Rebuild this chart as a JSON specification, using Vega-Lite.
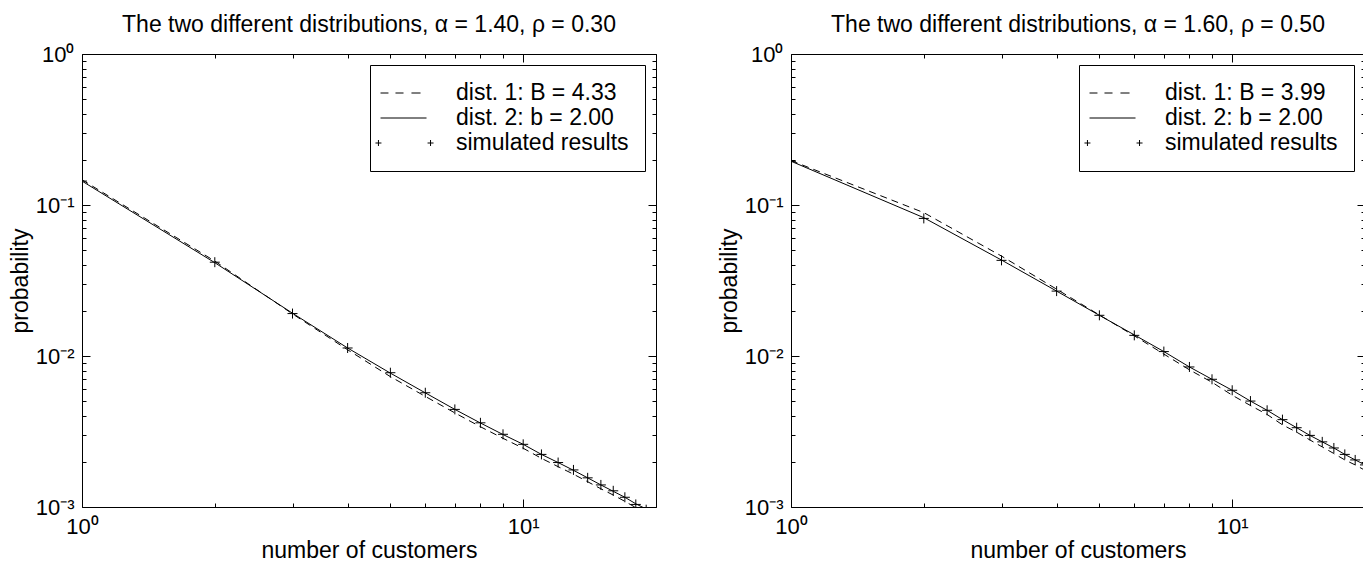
{
  "$schema": "https://vega.github.io/schema/vega-lite/v6.json",
  "background": "white",
  "padding": {"left": 8, "top": 13, "right": 0, "bottom": 0},
  "spacing": 60,
  "datasets": {
    "left": [
      {"x": 1, "p": 0.147, "series": "dist. 1: B = 4.33"},
      {"x": 2, "p": 0.0425, "series": "dist. 1: B = 4.33"},
      {"x": 3, "p": 0.019, "series": "dist. 1: B = 4.33"},
      {"x": 4, "p": 0.011, "series": "dist. 1: B = 4.33"},
      {"x": 5, "p": 0.0073, "series": "dist. 1: B = 4.33"},
      {"x": 6, "p": 0.0054, "series": "dist. 1: B = 4.33"},
      {"x": 7, "p": 0.0042, "series": "dist. 1: B = 4.33"},
      {"x": 8, "p": 0.0034, "series": "dist. 1: B = 4.33"},
      {"x": 9, "p": 0.00285, "series": "dist. 1: B = 4.33"},
      {"x": 10, "p": 0.00245, "series": "dist. 1: B = 4.33"},
      {"x": 11, "p": 0.0021, "series": "dist. 1: B = 4.33"},
      {"x": 12, "p": 0.00185, "series": "dist. 1: B = 4.33"},
      {"x": 13, "p": 0.00165, "series": "dist. 1: B = 4.33"},
      {"x": 14, "p": 0.00147, "series": "dist. 1: B = 4.33"},
      {"x": 15, "p": 0.00132, "series": "dist. 1: B = 4.33"},
      {"x": 16, "p": 0.0012, "series": "dist. 1: B = 4.33"},
      {"x": 17, "p": 0.00109, "series": "dist. 1: B = 4.33"},
      {"x": 18, "p": 0.00099, "series": "dist. 1: B = 4.33"},
      {"x": 19, "p": 0.0009, "series": "dist. 1: B = 4.33"},
      {"x": 20, "p": 0.00083, "series": "dist. 1: B = 4.33"},
      {"x": 1, "p": 0.144, "series": "dist. 2: b = 2.00"},
      {"x": 2, "p": 0.0415, "series": "dist. 2: b = 2.00"},
      {"x": 3, "p": 0.0192, "series": "dist. 2: b = 2.00"},
      {"x": 4, "p": 0.0113, "series": "dist. 2: b = 2.00"},
      {"x": 5, "p": 0.0077, "series": "dist. 2: b = 2.00"},
      {"x": 6, "p": 0.0057, "series": "dist. 2: b = 2.00"},
      {"x": 7, "p": 0.00443, "series": "dist. 2: b = 2.00"},
      {"x": 8, "p": 0.0036, "series": "dist. 2: b = 2.00"},
      {"x": 9, "p": 0.00302, "series": "dist. 2: b = 2.00"},
      {"x": 10, "p": 0.0026, "series": "dist. 2: b = 2.00"},
      {"x": 11, "p": 0.00223, "series": "dist. 2: b = 2.00"},
      {"x": 12, "p": 0.00197, "series": "dist. 2: b = 2.00"},
      {"x": 13, "p": 0.00175, "series": "dist. 2: b = 2.00"},
      {"x": 14, "p": 0.00156, "series": "dist. 2: b = 2.00"},
      {"x": 15, "p": 0.0014, "series": "dist. 2: b = 2.00"},
      {"x": 16, "p": 0.00127, "series": "dist. 2: b = 2.00"},
      {"x": 17, "p": 0.00116, "series": "dist. 2: b = 2.00"},
      {"x": 18, "p": 0.00105, "series": "dist. 2: b = 2.00"},
      {"x": 19, "p": 0.00097, "series": "dist. 2: b = 2.00"},
      {"x": 20, "p": 0.00089, "series": "dist. 2: b = 2.00"},
      {"x": 1, "p": 0.144, "series": "simulated results"},
      {"x": 2, "p": 0.0418, "series": "simulated results"},
      {"x": 3, "p": 0.0191, "series": "simulated results"},
      {"x": 4, "p": 0.0113, "series": "simulated results"},
      {"x": 5, "p": 0.00775, "series": "simulated results"},
      {"x": 6, "p": 0.00571, "series": "simulated results"},
      {"x": 7, "p": 0.00443, "series": "simulated results"},
      {"x": 8, "p": 0.00361, "series": "simulated results"},
      {"x": 9, "p": 0.00303, "series": "simulated results"},
      {"x": 10, "p": 0.0026, "series": "simulated results"},
      {"x": 11, "p": 0.00223, "series": "simulated results"},
      {"x": 12, "p": 0.00197, "series": "simulated results"},
      {"x": 13, "p": 0.00176, "series": "simulated results"},
      {"x": 14, "p": 0.00156, "series": "simulated results"},
      {"x": 15, "p": 0.0014, "series": "simulated results"},
      {"x": 16, "p": 0.00128, "series": "simulated results"},
      {"x": 17, "p": 0.00116, "series": "simulated results"},
      {"x": 18, "p": 0.00104, "series": "simulated results"},
      {"x": 19, "p": 0.00096, "series": "simulated results"}
    ],
    "right": [
      {"x": 1, "p": 0.197, "series": "dist. 1: B = 3.99"},
      {"x": 2, "p": 0.089, "series": "dist. 1: B = 3.99"},
      {"x": 3, "p": 0.0459, "series": "dist. 1: B = 3.99"},
      {"x": 4, "p": 0.0277, "series": "dist. 1: B = 3.99"},
      {"x": 5, "p": 0.0187, "series": "dist. 1: B = 3.99"},
      {"x": 6, "p": 0.0136, "series": "dist. 1: B = 3.99"},
      {"x": 7, "p": 0.0103, "series": "dist. 1: B = 3.99"},
      {"x": 8, "p": 0.0081, "series": "dist. 1: B = 3.99"},
      {"x": 9, "p": 0.0067, "series": "dist. 1: B = 3.99"},
      {"x": 10, "p": 0.0055, "series": "dist. 1: B = 3.99"},
      {"x": 11, "p": 0.0047, "series": "dist. 1: B = 3.99"},
      {"x": 12, "p": 0.0041, "series": "dist. 1: B = 3.99"},
      {"x": 13, "p": 0.0035, "series": "dist. 1: B = 3.99"},
      {"x": 14, "p": 0.00313, "series": "dist. 1: B = 3.99"},
      {"x": 15, "p": 0.00278, "series": "dist. 1: B = 3.99"},
      {"x": 16, "p": 0.0025, "series": "dist. 1: B = 3.99"},
      {"x": 17, "p": 0.00226, "series": "dist. 1: B = 3.99"},
      {"x": 18, "p": 0.00205, "series": "dist. 1: B = 3.99"},
      {"x": 19, "p": 0.0019, "series": "dist. 1: B = 3.99"},
      {"x": 20, "p": 0.00175, "series": "dist. 1: B = 3.99"},
      {"x": 1, "p": 0.195, "series": "dist. 2: b = 2.00"},
      {"x": 2, "p": 0.0824, "series": "dist. 2: b = 2.00"},
      {"x": 3, "p": 0.0432, "series": "dist. 2: b = 2.00"},
      {"x": 4, "p": 0.0269, "series": "dist. 2: b = 2.00"},
      {"x": 5, "p": 0.0186, "series": "dist. 2: b = 2.00"},
      {"x": 6, "p": 0.0138, "series": "dist. 2: b = 2.00"},
      {"x": 7, "p": 0.0107, "series": "dist. 2: b = 2.00"},
      {"x": 8, "p": 0.00846, "series": "dist. 2: b = 2.00"},
      {"x": 9, "p": 0.00701, "series": "dist. 2: b = 2.00"},
      {"x": 10, "p": 0.00593, "series": "dist. 2: b = 2.00"},
      {"x": 11, "p": 0.00503, "series": "dist. 2: b = 2.00"},
      {"x": 12, "p": 0.00437, "series": "dist. 2: b = 2.00"},
      {"x": 13, "p": 0.00379, "series": "dist. 2: b = 2.00"},
      {"x": 14, "p": 0.00335, "series": "dist. 2: b = 2.00"},
      {"x": 15, "p": 0.00298, "series": "dist. 2: b = 2.00"},
      {"x": 16, "p": 0.0027, "series": "dist. 2: b = 2.00"},
      {"x": 17, "p": 0.00246, "series": "dist. 2: b = 2.00"},
      {"x": 18, "p": 0.00223, "series": "dist. 2: b = 2.00"},
      {"x": 19, "p": 0.00205, "series": "dist. 2: b = 2.00"},
      {"x": 20, "p": 0.0019, "series": "dist. 2: b = 2.00"},
      {"x": 1, "p": 0.195, "series": "simulated results"},
      {"x": 2, "p": 0.0815, "series": "simulated results"},
      {"x": 3, "p": 0.043, "series": "simulated results"},
      {"x": 4, "p": 0.0269, "series": "simulated results"},
      {"x": 5, "p": 0.0186, "series": "simulated results"},
      {"x": 6, "p": 0.0137, "series": "simulated results"},
      {"x": 7, "p": 0.0107, "series": "simulated results"},
      {"x": 8, "p": 0.00846, "series": "simulated results"},
      {"x": 9, "p": 0.00701, "series": "simulated results"},
      {"x": 10, "p": 0.00593, "series": "simulated results"},
      {"x": 11, "p": 0.00503, "series": "simulated results"},
      {"x": 12, "p": 0.00437, "series": "simulated results"},
      {"x": 13, "p": 0.00379, "series": "simulated results"},
      {"x": 14, "p": 0.00335, "series": "simulated results"},
      {"x": 15, "p": 0.00298, "series": "simulated results"},
      {"x": 16, "p": 0.0027, "series": "simulated results"},
      {"x": 17, "p": 0.00246, "series": "simulated results"},
      {"x": 18, "p": 0.00223, "series": "simulated results"},
      {"x": 19, "p": 0.00205, "series": "simulated results"},
      {"x": 20, "p": 0.0019, "series": "simulated results"}
    ]
  },
  "resolve": {"scale": {"shape": "independent"}, "legend": {"shape": "independent"}},
  "hconcat": [
    {
      "title": "The two different distributions, α = 1.40, ρ = 0.30",
      "width": 574,
      "height": 453,
      "data": {"name": "left"},
      "resolve": {"axis": {"x": "independent", "y": "independent"}},
      "layer": [
        {
          "transform": [{"filter": "substring(datum.series, 0, 7) === 'dist. 1'"}],
          "mark": {"type": "line", "clip": true, "color": "black", "strokeWidth": 1, "strokeDash": [7, 5]},
          "encoding": {
            "x": {"field": "x", "type": "quantitative", "scale": {"type": "log", "domain": [1, 20], "nice": false},
              "axis": {"orient": "bottom", "values": [1, 2, 3, 4, 5, 6, 7, 8, 9, 10, 20], "title": "number of customers", "titlePadding": -2, "labelPadding": 17,
                "labelExpr": "abs(log(datum.value)/LN10 - round(log(datum.value)/LN10)) < 1e-6 ? '10' + ['⁻³','⁻²','⁻¹','⁰','¹','²'][round(log(datum.value)/LN10)+3] : ''",
                "tickSize": {"condition": {"test": "abs(log(datum.value)/LN10 - round(log(datum.value)/LN10)) < 1e-6", "value": -8}, "value": -4}}},
            "y": {"field": "p", "type": "quantitative", "scale": {"type": "log", "domain": [0.001, 1], "nice": false},
              "axis": {"orient": "left", "values": [0.001, 0.002, 0.003, 0.004, 0.005, 0.006, 0.007, 0.008, 0.009, 0.01, 0.02, 0.03, 0.04, 0.05, 0.06, 0.07, 0.08, 0.09, 0.1, 0.2, 0.3, 0.4, 0.5, 0.6, 0.7, 0.8, 0.9, 1], "title": "probability", "titlePadding": 3, "labelPadding": 16,
                "labelExpr": "abs(log(datum.value)/LN10 - round(log(datum.value)/LN10)) < 1e-6 ? '10' + ['⁻³','⁻²','⁻¹','⁰','¹','²'][round(log(datum.value)/LN10)+3] : ''",
                "tickSize": {"condition": {"test": "abs(log(datum.value)/LN10 - round(log(datum.value)/LN10)) < 1e-6", "value": -8}, "value": -4}}}
          }
        },
        {
          "transform": [{"filter": "substring(datum.series, 0, 7) === 'dist. 2'"}],
          "mark": {"type": "line", "clip": true, "color": "black", "strokeWidth": 1},
          "encoding": {
            "x": {"field": "x", "type": "quantitative", "axis": null},
            "y": {"field": "p", "type": "quantitative", "axis": null}
          }
        },
        {
          "transform": [{"filter": "datum.series === 'simulated results'"}],
          "mark": {"type": "point", "clip": true, "shape": "M-1,0H1M0,-1V1", "size": 100, "filled": false, "stroke": "black", "strokeWidth": 1, "opacity": 1},
          "encoding": {
            "x": {"field": "x", "type": "quantitative",
              "axis": {"orient": "top", "values": [1, 2, 3, 4, 5, 6, 7, 8, 9, 10, 20], "labels": false, "title": null,
                "tickSize": {"condition": {"test": "abs(log(datum.value)/LN10 - round(log(datum.value)/LN10)) < 1e-6", "value": -8}, "value": -4}}},
            "y": {"field": "p", "type": "quantitative",
              "axis": {"orient": "right", "values": [0.001, 0.002, 0.003, 0.004, 0.005, 0.006, 0.007, 0.008, 0.009, 0.01, 0.02, 0.03, 0.04, 0.05, 0.06, 0.07, 0.08, 0.09, 0.1, 0.2, 0.3, 0.4, 0.5, 0.6, 0.7, 0.8, 0.9, 1], "labels": false, "title": null,
                "tickSize": {"condition": {"test": "abs(log(datum.value)/LN10 - round(log(datum.value)/LN10)) < 1e-6", "value": -8}, "value": -4}}}
          }
        },
        {
          "transform": [{"filter": "datum.series === 'legend only'"}],
          "mark": {"type": "point", "filled": false, "stroke": "black", "strokeWidth": 1, "size": 529, "opacity": 1},
          "encoding": {
            "x": {"field": "x", "type": "quantitative", "axis": null},
            "y": {"field": "p", "type": "quantitative", "axis": null},
            "shape": {"field": "series", "type": "nominal",
              "scale": {"domain": ["dist. 1: B = 4.33", "dist. 2: b = 2.00", "simulated results"],
                "range": ["M-1.52,0H-0.83M-0.22,0H0.48M1.17,0H1.96", "M-1.52,0H2.48", "M-1.7,-0.26V0.26M-1.96,0H-1.44M2.83,-0.26V0.26M2.57,0H3.09"]},
              "legend": {"title": null, "orient": "top-right", "offset": 11, "fillColor": "white", "strokeColor": "black", "padding": 16,
                "labelFont": "Liberation Sans", "labelFontSize": 23, "labelColor": "black", "labelLimit": 400, "labelOffset": 46, "rowPadding": 1,
                "symbolSize": 529, "symbolStrokeWidth": 1, "symbolStrokeColor": "black", "symbolFillColor": "transparent"}}
          }
        }
      ]
    },
    {
      "title": "The two different distributions, α = 1.60, ρ = 0.50",
      "width": 574,
      "height": 453,
      "data": {"name": "right"},
      "resolve": {"axis": {"x": "independent", "y": "independent"}},
      "layer": [
        {
          "transform": [{"filter": "substring(datum.series, 0, 7) === 'dist. 1'"}],
          "mark": {"type": "line", "clip": true, "color": "black", "strokeWidth": 1, "strokeDash": [7, 5]},
          "encoding": {
            "x": {"field": "x", "type": "quantitative", "scale": {"type": "log", "domain": [1, 20], "nice": false},
              "axis": {"orient": "bottom", "values": [1, 2, 3, 4, 5, 6, 7, 8, 9, 10, 20], "title": "number of customers", "titlePadding": -2, "labelPadding": 17,
                "labelExpr": "abs(log(datum.value)/LN10 - round(log(datum.value)/LN10)) < 1e-6 ? '10' + ['⁻³','⁻²','⁻¹','⁰','¹','²'][round(log(datum.value)/LN10)+3] : ''",
                "tickSize": {"condition": {"test": "abs(log(datum.value)/LN10 - round(log(datum.value)/LN10)) < 1e-6", "value": -8}, "value": -4}}},
            "y": {"field": "p", "type": "quantitative", "scale": {"type": "log", "domain": [0.001, 1], "nice": false},
              "axis": {"orient": "left", "values": [0.001, 0.002, 0.003, 0.004, 0.005, 0.006, 0.007, 0.008, 0.009, 0.01, 0.02, 0.03, 0.04, 0.05, 0.06, 0.07, 0.08, 0.09, 0.1, 0.2, 0.3, 0.4, 0.5, 0.6, 0.7, 0.8, 0.9, 1], "title": "probability", "titlePadding": 3, "labelPadding": 16,
                "labelExpr": "abs(log(datum.value)/LN10 - round(log(datum.value)/LN10)) < 1e-6 ? '10' + ['⁻³','⁻²','⁻¹','⁰','¹','²'][round(log(datum.value)/LN10)+3] : ''",
                "tickSize": {"condition": {"test": "abs(log(datum.value)/LN10 - round(log(datum.value)/LN10)) < 1e-6", "value": -8}, "value": -4}}}
          }
        },
        {
          "transform": [{"filter": "substring(datum.series, 0, 7) === 'dist. 2'"}],
          "mark": {"type": "line", "clip": true, "color": "black", "strokeWidth": 1},
          "encoding": {
            "x": {"field": "x", "type": "quantitative", "axis": null},
            "y": {"field": "p", "type": "quantitative", "axis": null}
          }
        },
        {
          "transform": [{"filter": "datum.series === 'simulated results'"}],
          "mark": {"type": "point", "clip": true, "shape": "M-1,0H1M0,-1V1", "size": 100, "filled": false, "stroke": "black", "strokeWidth": 1, "opacity": 1},
          "encoding": {
            "x": {"field": "x", "type": "quantitative",
              "axis": {"orient": "top", "values": [1, 2, 3, 4, 5, 6, 7, 8, 9, 10, 20], "labels": false, "title": null,
                "tickSize": {"condition": {"test": "abs(log(datum.value)/LN10 - round(log(datum.value)/LN10)) < 1e-6", "value": -8}, "value": -4}}},
            "y": {"field": "p", "type": "quantitative",
              "axis": {"orient": "right", "values": [0.001, 0.002, 0.003, 0.004, 0.005, 0.006, 0.007, 0.008, 0.009, 0.01, 0.02, 0.03, 0.04, 0.05, 0.06, 0.07, 0.08, 0.09, 0.1, 0.2, 0.3, 0.4, 0.5, 0.6, 0.7, 0.8, 0.9, 1], "labels": false, "title": null,
                "tickSize": {"condition": {"test": "abs(log(datum.value)/LN10 - round(log(datum.value)/LN10)) < 1e-6", "value": -8}, "value": -4}}}
          }
        },
        {
          "transform": [{"filter": "datum.series === 'legend only'"}],
          "mark": {"type": "point", "filled": false, "stroke": "black", "strokeWidth": 1, "size": 529, "opacity": 1},
          "encoding": {
            "x": {"field": "x", "type": "quantitative", "axis": null},
            "y": {"field": "p", "type": "quantitative", "axis": null},
            "shape": {"field": "series", "type": "nominal",
              "scale": {"domain": ["dist. 1: B = 3.99", "dist. 2: b = 2.00", "simulated results"],
                "range": ["M-1.52,0H-0.83M-0.22,0H0.48M1.17,0H1.96", "M-1.52,0H2.48", "M-1.7,-0.26V0.26M-1.96,0H-1.44M2.83,-0.26V0.26M2.57,0H3.09"]},
              "legend": {"title": null, "orient": "top-right", "offset": 11, "fillColor": "white", "strokeColor": "black", "padding": 16,
                "labelFont": "Liberation Sans", "labelFontSize": 23, "labelColor": "black", "labelLimit": 400, "labelOffset": 46, "rowPadding": 1,
                "symbolSize": 529, "symbolStrokeWidth": 1, "symbolStrokeColor": "black", "symbolFillColor": "transparent"}}
          }
        }
      ]
    }
  ],
  "config": {
    "font": "Liberation Sans",
    "view": {"stroke": "black", "strokeWidth": 1},
    "axis": {"domain": false, "grid": false, "tickColor": "black", "tickWidth": 1, "labelColor": "black", "titleColor": "black",
      "labelFont": "Liberation Sans", "titleFont": "Liberation Sans", "labelFontSize": 22, "titleFontSize": 23, "titleFontWeight": "normal",
      "labelOverlap": false, "labelFlush": false, "labelBound": false, "labelAngle": 0},
    "title": {"fontSize": 23, "fontWeight": "normal", "color": "black", "font": "Liberation Sans", "anchor": "middle", "baseline": "alphabetic", "offset": 6}
  }
}
